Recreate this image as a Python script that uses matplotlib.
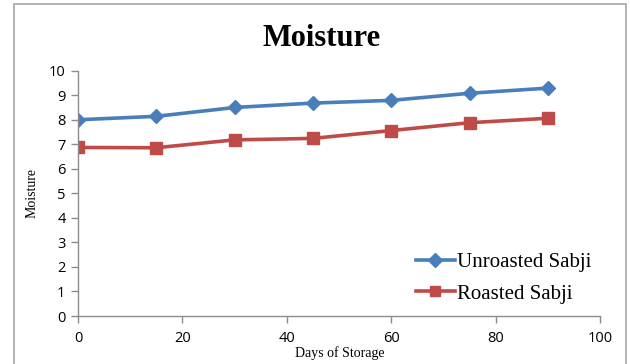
import matplotlib
matplotlib.use("Agg")
import matplotlib.pyplot as plt
from matplotlib.patches import Rectangle

# storage days and moisture readings
days = [0, 15, 30, 45, 60, 75, 90]
unroasted = [8.0, 8.14, 8.5, 8.68, 8.79, 9.08, 9.29]
roasted = [6.87, 6.86, 7.18, 7.24, 7.56, 7.88, 8.06]
series_names = ["Unroasted Sabji", "Roasted Sabji"]
xticks = [0, 20, 40, 60, 80, 100]
yticks = list(range(0, 11))

serif = "Liberation Serif"
sans = "Open Sans"

fig = plt.figure(figsize=(6.3, 3.64), dpi=100)
ax = fig.add_axes([78 / 630, 48 / 364, 522 / 630, 245.3 / 364])

# outer chart border
fig.patches.append(Rectangle((14 / 630, -0.01), 612 / 630, 1 - 4 / 364 + 0.01,
                             transform=fig.transFigure, fill=False,
                             edgecolor="#a6a6a6", linewidth=1.2))

ax.plot(days, unroasted, color="#4a7ebb", marker="D", markersize=7,
        linewidth=2.6, label=series_names[0])
ax.plot(days, roasted, color="#be4b48", marker="s", markersize=8.5,
        linewidth=2.6, label=series_names[1])

ax.set_xlim(0, 100)
ax.set_ylim(0, 10)
ax.set_xticks(xticks)
ax.set_yticks(yticks)
for s in ["top", "right"]:
    ax.spines[s].set_visible(False)
for s in ["left", "bottom"]:
    ax.spines[s].set_color("#8c8c8c")
    ax.spines[s].set_linewidth(1)
ax.tick_params(colors="#8c8c8c", length=5, width=1, labelcolor="black",
               labelsize=10.5)
for lab in ax.get_xticklabels() + ax.get_yticklabels():
    lab.set_family(sans)
ax.tick_params(axis="x", pad=6)
ax.tick_params(axis="y", pad=4)

fig.text(322 / 630, 1 - 38 / 364, "Moisture", family=serif, weight="bold",
         fontsize=22, ha="center", va="center")
fig.text(340 / 630, 1 - 353 / 364, "Days of Storage", family=serif,
         fontsize=10, ha="center", va="center")
fig.text(32 / 630, 1 - 193 / 364, "Moisture", family=serif, fontsize=10,
         rotation=90, ha="center", va="center")

leg = ax.legend(loc="lower right", bbox_to_anchor=(1.008, 0.0), frameon=False,
                prop={"family": serif, "size": 15}, handlelength=1.9,
                handletextpad=0.1, labelspacing=0.55, borderaxespad=0.2)
for h in leg.legend_handles:
    h.set_markersize(7)

fig.savefig("out.png", dpi=100)
